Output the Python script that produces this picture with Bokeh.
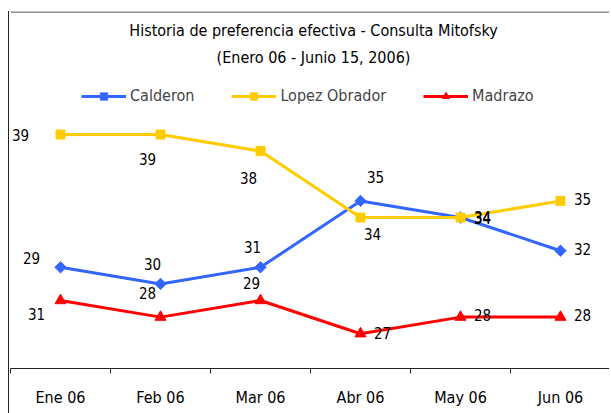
import numpy as np
from bokeh.plotting import figure
from bokeh.models import Range1d, FixedTicker, Label, Legend, LegendItem, ColumnDataSource, Span
from bokeh.core.properties import value
from bokeh.embed import file_html
from bokeh.resources import INLINE

# ---- data ----
months = ["Ene 06", "Feb 06", "Mar 06", "Abr 06", "May 06", "Jun 06"]
calderon = [31, 30, 31, 35, 34, 32]
lopez = [39, 39, 38, 34, 34, 35]
madrazo = [29, 28, 29, 27, 28, 28]
calderon_labels = ["29", "30", "31", "35", "34", "32"]
lopez_labels = ["39", "39", "38", "34", "34", "35"]
madrazo_labels = ["31", "28", "29", "27", "28", "28"]

title1 = "Historia de preferencia efectiva - Consulta Mitofsky"
title2 = "(Enero 06 - Junio 15, 2006)"

# ---- style ----
FONT = "'DejaVu Sans Condensed', 'Liberation Sans Narrow', 'Roboto Condensed', sans-serif"
BLUE = "#3366FF"
YELLOW = "#FFCC00"
RED = "#FF0000"
FRAME = "#222222"

# label offsets in screen px (dx right, dy down)
lopez_off = [(-40, 0), (-13, 24), (-12, 27), (12, 16), (22, 0), (22, -2)]
calderon_off = [(-29, -9), (-8, -20), (-8, -20), (15, -24), (22, -1), (22, -2)]
madrazo_off = [(-24, 13), (-13, -24), (-9, -18), (22, -1), (22, -2), (22, -2)]

xs = np.arange(len(months)) + 0.5
Y0, Y1 = 24.904, 46.41

p = figure(width=601, height=402, output_backend="svg", toolbar_location=None,
           x_range=Range1d(0, len(months)), y_range=Range1d(Y0, Y1),
           y_axis_location=None, min_border_left=1, min_border_right=0,
           min_border_top=0, min_border_bottom=45)
p.styles = {"border-left": "1px solid " + FRAME, "margin-top": "11px", "margin-left": "8px"}
p.outline_line_color = None
p.grid.visible = False
p.background_fill_color = "white"
p.border_fill_color = "white"

# top frame line of the chart area
p.add_layout(Span(location=Y1 - 0.5 / 16.6, dimension="width",
                  line_color=FRAME, line_width=1))

ax = p.xaxis[0]
ax.ticker = FixedTicker(ticks=list(xs), minor_ticks=list(range(len(months) + 1)))
ax.major_label_overrides = {float(x): m for x, m in zip(xs, months)}
ax.major_tick_out = 0
ax.major_tick_in = 0
ax.minor_tick_out = 5
ax.minor_tick_in = 0
ax.minor_tick_line_color = FRAME
ax.axis_line_color = FRAME
ax.major_label_standoff = 14
ax.major_label_text_font = FONT
ax.major_label_text_font_size = "16px"
ax.major_label_text_color = "black"

series = [
    ("Calderon", calderon, calderon_labels, calderon_off, BLUE, "square", np.pi / 4, 8),
    ("Lopez Obrador", lopez, lopez_labels, lopez_off, YELLOW, "square", 0, 9),
    ("Madrazo", madrazo, madrazo_labels, madrazo_off, RED, "triangle", 0, 11),
]

items = []
for name, vals, labs, off, color, marker, ang, size in series:
    src = ColumnDataSource(dict(x=xs, y=vals))
    r1 = p.line("x", "y", source=src, line_color=color, line_width=3)
    r2 = p.scatter("x", "y", source=src, marker=marker, angle=ang, size=size,
                   fill_color=color, line_color=color)
    items.append(LegendItem(label=name, renderers=[r1, r2]))

for name, vals, labs, off, color, marker, ang, size in series:
    src = ColumnDataSource(dict(x=xs, y=vals, t=labs,
                                dx=[o[0] for o in off], dy=[o[1] for o in off]))
    p.text("x", "y", text="t", source=src, x_offset="dx", y_offset="dy",
           text_align="center", text_baseline="middle",
           text_font=value(FONT), text_font_size="15px", text_color="black")

legend = Legend(items=items, orientation="horizontal", location=(71, 263),
                glyph_width=45, glyph_height=18, label_standoff=4, spacing=37,
                padding=0, margin=0, border_line_color=None,
                background_fill_alpha=0, label_text_font=FONT,
                label_text_font_size="16px", label_height=18)
p.add_layout(legend, "center")

p.add_layout(Label(x=303, y=338, x_units="screen", y_units="screen", text=title1,
                   text_align="center", text_baseline="middle", text_font=FONT,
                   text_font_size="16px", text_color="black"))
p.add_layout(Label(x=303, y=311, x_units="screen", y_units="screen", text=title2,
                   text_align="center", text_baseline="middle", text_font=FONT,
                   text_font_size="16px", text_color="black"))

open("out.html", "w").write(file_html(p, INLINE))
